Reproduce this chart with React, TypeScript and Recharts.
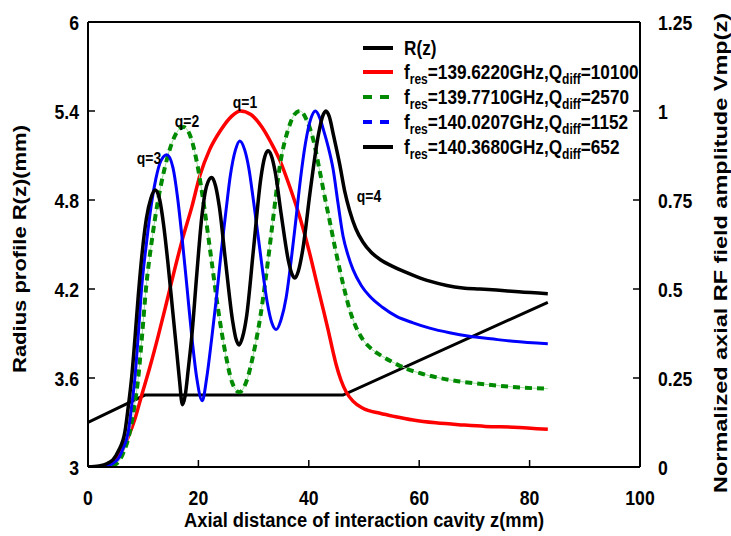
import React from 'react';
import { ComposedChart, Line, XAxis, YAxis, ReferenceLine } from 'recharts';

const W = 731;
const H = 536;
const FONT = '"Liberation Sans", Arial, Helvetica, sans-serif';
const PL = 88;
const PR = 640;
const PB = 467;

type Pt = { z: number; v: number };
const mk = (a: number[][]): Pt[] => a.map(([z, v]) => ({ z, v }));

// Radius profile R(z) (mm), left axis
const rProfile = mk([[0, 3.3], [10.3, 3.485], [46.2, 3.485], [83.3, 4.11]]);

// q=1, f=139.6220 GHz
const q1 = mk([
  [0, 0], [2, 0], [3.7, 0.006], [5.5, 0.03], [7.3, 0.085], [8.5, 0.135], [9.7, 0.2], [11.2, 0.28],
  [12.7, 0.367], [14.2, 0.46], [15.7, 0.555], [17.2, 0.645], [18.8, 0.73], [20.3, 0.82], [22, 0.89],
  [24, 0.945], [26, 0.985], [27.6, 1.0], [29.5, 0.99], [31.5, 0.955], [33.2, 0.91], [34.8, 0.86],
  [36.6, 0.785], [38.4, 0.7], [40, 0.61], [41.4, 0.52], [42.5, 0.45], [43.5, 0.385], [44.3, 0.33],
  [45, 0.285], [45.8, 0.245], [46.8, 0.21], [48, 0.185], [49.8, 0.165], [52.9, 0.151], [55.5, 0.142],
  [58.9, 0.132], [63, 0.124], [67.9, 0.118], [72, 0.114], [77, 0.112], [83.3, 0.106],
]);

// q=2, f=139.7710 GHz
const q2 = mk([
  [0, 0], [3, 0.001], [5, 0.008], [6.4, 0.04], [7.6, 0.1], [8.4, 0.17], [9.1, 0.25], [9.8, 0.37],
  [10.5, 0.5], [11.6, 0.64], [12.7, 0.75], [13.9, 0.84], [15.2, 0.91], [16.3, 0.945], [17.3, 0.955],
  [18.6, 0.927], [19.8, 0.85], [21.1, 0.725], [22.35, 0.583], [23.6, 0.44], [24.9, 0.319], [26.1, 0.238],
  [27.4, 0.21], [28.8, 0.245], [30, 0.32], [31.2, 0.42], [32.2, 0.53], [33.4, 0.68], [34.8, 0.85],
  [36.3, 0.95], [37.4, 0.99], [38.4, 1.0], [39.6, 0.975], [40.8, 0.92], [42, 0.83], [43, 0.75],
  [43.8, 0.69], [44.7, 0.62], [45.6, 0.555], [46.5, 0.495], [47.4, 0.442], [48.5, 0.395], [49.8, 0.358],
  [51.5, 0.33], [53.4, 0.31], [55.5, 0.292], [57.7, 0.276], [60.5, 0.262], [63.7, 0.25], [67, 0.241],
  [70.9, 0.234], [74, 0.229], [77.6, 0.224], [83.3, 0.22],
]);

// q=3, f=140.0207 GHz
const q3 = mk([
  [0, 0], [3, 0.002], [5.3, 0.02], [6.3, 0.05], [7.3, 0.1], [7.9, 0.17], [8.5, 0.25], [9.1, 0.37],
  [9.7, 0.5], [10.6, 0.63], [11.5, 0.74], [12.3, 0.81], [13.2, 0.86], [14.3, 0.877], [15.4, 0.84],
  [16.2, 0.76], [17, 0.65], [17.9, 0.51], [18.8, 0.367], [19.7, 0.25], [20.7, 0.186], [21.5, 0.25],
  [22.4, 0.36], [23.3, 0.48], [24.1, 0.6], [25, 0.72], [25.8, 0.82], [26.7, 0.89], [27.5, 0.916],
  [28.4, 0.89], [29.15, 0.838], [30, 0.745], [30.8, 0.651], [31.6, 0.555], [32.45, 0.464], [33.3, 0.405],
  [34.1, 0.386], [35, 0.415], [35.9, 0.476], [36.8, 0.58], [37.65, 0.693], [38.5, 0.81], [39.4, 0.91],
  [40.3, 0.975], [41.2, 1.0], [42, 0.98], [42.6, 0.95], [43.5, 0.9], [44.4, 0.837], [45.3, 0.74],
  [46.2, 0.649], [47.1, 0.595], [48, 0.555], [49.5, 0.51], [51, 0.48], [53.4, 0.448], [55.9, 0.423],
  [58.9, 0.405], [61.9, 0.39], [65.5, 0.377], [69.1, 0.367], [73, 0.36], [77, 0.353], [83.3, 0.346],
]);

// q=4, f=140.3680 GHz
const q4 = mk([
  [0, 0], [2, 0.003], [3.5, 0.01], [4.5, 0.02], [5.5, 0.045], [6.7, 0.1], [7.3, 0.17], [7.9, 0.25],
  [8.5, 0.36], [9.1, 0.48], [9.8, 0.6], [10.6, 0.7], [11.4, 0.755], [12.2, 0.778], [13, 0.75],
  [13.7, 0.68], [14.5, 0.57], [15.3, 0.445], [16.1, 0.32], [16.6, 0.24], [17.1, 0.175], [17.6, 0.2],
  [18.2, 0.28], [18.8, 0.367], [19.7, 0.54], [20.6, 0.7], [21.5, 0.79], [22.4, 0.813], [23.1, 0.79],
  [23.8, 0.73], [24.9, 0.58], [26.2, 0.41], [26.8, 0.36], [27.4, 0.343], [28, 0.365], [28.7, 0.42],
  [30, 0.615], [31.3, 0.81], [32, 0.87], [32.6, 0.888], [33.2, 0.875], [33.9, 0.83], [35, 0.71],
  [36.3, 0.58], [37, 0.54], [37.5, 0.531], [38.1, 0.55], [38.9, 0.61], [40.3, 0.78], [41.7, 0.93],
  [42.5, 0.985], [43.1, 1.0], [43.7, 0.985], [44.5, 0.93], [45.6, 0.85], [46.5, 0.775], [47.4, 0.72],
  [48.5, 0.67], [49.8, 0.632], [51.3, 0.603], [52.9, 0.583], [55, 0.565], [57.1, 0.55], [59.5, 0.535],
  [61.9, 0.522], [65, 0.51], [67.9, 0.503], [71, 0.5], [74, 0.497], [78, 0.492], [83.3, 0.487],
]);

const xTicks = [0, 20, 40, 60, 80, 100];
const leftTicks = [3, 3.6, 4.2, 4.8, 5.4, 6];
const rightTicks = [0, 0.25, 0.5, 0.75, 1, 1.25];

const legendFreq = ['139.6220', '139.7710', '140.0207', '140.3680'];
const legendQ = ['10100', '2570', '1152', '652'];
const modeLabels = ['q=1', 'q=2', 'q=3', 'q=4'];

const SText = ({ x, y, anchor = 'middle', size = 20, sx = 0.87, children }: any) => (
  <text
    transform={`translate(${x},${y}) scale(${sx},1)`}
    textAnchor={anchor}
    fontFamily={FONT}
    fontWeight="bold"
    fontSize={size}
    fill="#000"
  >
    {children}
  </text>
);

const LeftTick = (p: any) => (
  <g>
    <line x1={PL} x2={PL + 7} y1={p.y} y2={p.y} stroke="#000" strokeWidth={1.5} />
    <SText x={79} y={p.y + 7.5} anchor="end" size={21} sx={0.84}>{String(p.payload.value)}</SText>
  </g>
);
const RightTick = (p: any) => (
  <g>
    <line x1={PR - 7} x2={PR} y1={p.y} y2={p.y} stroke="#000" strokeWidth={1.5} />
    <SText x={658} y={p.y + 7.5} anchor="start" size={21} sx={0.84}>{String(p.payload.value)}</SText>
  </g>
);
const BottomTick = (p: any) => (
  <g>
    <line x1={p.x} x2={p.x} y1={PB - 7} y2={PB} stroke="#000" strokeWidth={1.5} />
    <SText x={p.x} y={505} anchor="middle" size={21} sx={0.84}>{String(p.payload.value)}</SText>
  </g>
);

const LegendRow = ({ y, color, dash, children }: any) => (
  <g>
    <line x1={363} x2={393} y1={y} y2={y} stroke={color} strokeWidth={4} strokeDasharray={dash} />
    {children}
  </g>
);

const FText = ({ y, f, q }: any) => (
  <text transform={`translate(404,${y + 7}) scale(0.86,1)`} fontFamily={FONT} fontWeight="bold" fontSize={20} fill="#000">
    <tspan>f</tspan>
    <tspan fontSize={14} dy={5}>res</tspan>
    <tspan dy={-5}>{`=${f}GHz,Q`}</tspan>
    <tspan fontSize={14} dy={5}>diff</tspan>
    <tspan dy={-5}>{`=${q}`}</tspan>
  </text>
);

export default function App() {
  const rowY = [48, 72, 97, 122, 147];
  const colors = ['#ff0000', '#008a00', '#0000ff', '#000000'];
  const dashes = [undefined, '9 8', '9 8', undefined];
  const qPos = [
    [245, 108],
    [187, 127],
    [149, 164],
    [369, 202],
  ];
  return (
    <div style={{ position: 'absolute', left: 0, top: 0, width: W, height: H, background: '#fff' }}>
      <ComposedChart width={W} height={H} margin={{ top: 22, right: 31, bottom: 29, left: 28 }}>
        <XAxis
          dataKey="z"
          type="number"
          domain={[0, 100]}
          ticks={xTicks}
          height={40}
          axisLine={{ stroke: '#000', strokeWidth: 2 }}
          tickLine={false}
          tick={<BottomTick />}
          allowDataOverflow
        />
        <YAxis
          yAxisId="r"
          orientation="left"
          type="number"
          domain={[3, 6]}
          ticks={leftTicks}
          width={60}
          axisLine={{ stroke: '#000', strokeWidth: 2 }}
          tickLine={false}
          tick={<LeftTick />}
          allowDataOverflow
        />
        <YAxis
          yAxisId="a"
          orientation="right"
          type="number"
          domain={[0, 1.25]}
          ticks={rightTicks}
          width={60}
          axisLine={{ stroke: '#000', strokeWidth: 2 }}
          tickLine={false}
          tick={<RightTick />}
          allowDataOverflow
        />
        <ReferenceLine yAxisId="r" y={6} stroke="#000" strokeWidth={2} />
        <Line yAxisId="r" data={rProfile} dataKey="v" type="linear" stroke="#000" strokeWidth={3} dot={false} isAnimationActive={false} />
        <Line yAxisId="a" data={q1} dataKey="v" type="monotone" stroke="#ff0000" strokeWidth={3.5} dot={false} isAnimationActive={false} />
        <Line yAxisId="a" data={q2} dataKey="v" type="monotone" stroke="#9fdc9f" strokeWidth={1} dot={false} isAnimationActive={false} />
        <Line yAxisId="a" data={q2} dataKey="v" type="monotone" stroke="#008a00" strokeWidth={4} strokeDasharray="7 5" dot={false} isAnimationActive={false} />
        <Line yAxisId="a" data={q3} dataKey="v" type="monotone" stroke="#0000ff" strokeWidth={3} dot={false} isAnimationActive={false} />
        <Line yAxisId="a" data={q4} dataKey="v" type="monotone" stroke="#000" strokeWidth={3.5} dot={false} isAnimationActive={false} />
      </ComposedChart>
      <svg width={W} height={H} style={{ position: 'absolute', left: 0, top: 0, pointerEvents: 'none' }}>
        <LegendRow y={rowY[0]} color="#000">
          <SText x={404} y={rowY[0] + 7} anchor="start" sx={0.86}>R(z)</SText>
        </LegendRow>
        {legendFreq.map((f, i) => (
          <LegendRow key={f} y={rowY[i + 1]} color={colors[i]} dash={dashes[i]}>
            <FText y={rowY[i + 1]} f={f} q={legendQ[i]} />
          </LegendRow>
        ))}
        {modeLabels.map((m, i) => (
          <SText key={m} x={qPos[i][0]} y={qPos[i][1]} size={16} sx={0.87}>{m}</SText>
        ))}
        <text
          transform="translate(364,527)"
          textAnchor="middle"
          fontFamily={FONT}
          fontWeight="bold"
          fontSize={20}
          textLength={360}
          lengthAdjust="spacingAndGlyphs"
        >
          Axial distance of interaction cavity z(mm)
        </text>
        <text
          transform="translate(26,249) rotate(-90)"
          textAnchor="middle"
          fontFamily={FONT}
          fontWeight="bold"
          fontSize={18}
          textLength={248}
          lengthAdjust="spacingAndGlyphs"
        >
          Radius profile R(z)(mm)
        </text>
        <text
          transform="translate(727,253) rotate(-90)"
          textAnchor="middle"
          fontFamily={FONT}
          fontWeight="bold"
          fontSize={18}
          textLength={480}
          lengthAdjust="spacingAndGlyphs"
        >
          Normalized axial RF field amplitude Vmp(z)
        </text>
      </svg>
    </div>
  );
}
